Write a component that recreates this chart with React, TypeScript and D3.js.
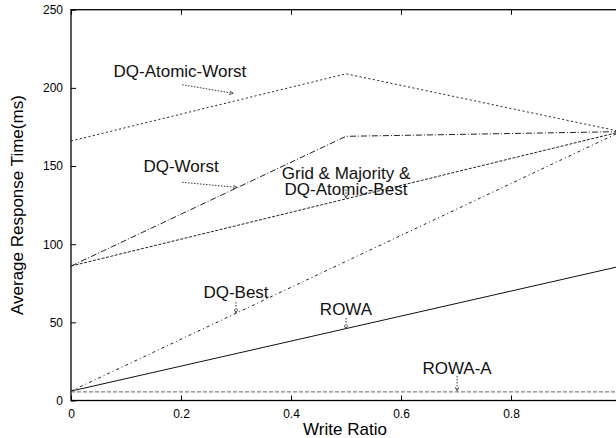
import React, { useRef, useEffect } from 'react';
import * as d3 from 'd3';

// write ratio sample points
const writeRatio = [0, 0.5, 1];

// response time (ms) for each scheme
const rowa = [6, 46, 86];
const rowaA = [5.5, 5.5, 5.5];
const dqBest = [6, 89, 172];
const gridMajority = [86, 129, 172];
const dqWorst = [86, 169, 172];
const dqAtomicWorst = [166, 209, 172];

const xTicks = [0, 0.2, 0.4, 0.6, 0.8, 1];
const yTicks = [0, 50, 100, 150, 200, 250];

interface Series {
  name: string;
  values: number[];
  dash: string;
  color: string;
}

const series: Series[] = [
  { name: 'ROWA', values: rowa, dash: 'none', color: '#111' },
  { name: 'ROWA-A', values: rowaA, dash: '4,2', color: '#666' },
  { name: 'DQ-Best', values: dqBest, dash: '3,3,1,3', color: '#222' },
  { name: 'Grid', values: gridMajority, dash: '3,1.5', color: '#222' },
  { name: 'DQ-Worst', values: dqWorst, dash: '6,2,1,2', color: '#222' },
  { name: 'DQ-Atomic-Worst', values: dqAtomicWorst, dash: '2,2.5', color: '#222' },
];

// labels in data units: text lines, text anchor point, arrow from -> to
interface Note {
  lines: string[];
  at: [number, number];
  from: [number, number];
  to: [number, number];
}

const notes: Note[] = [
  { lines: ['DQ-Atomic-Worst'], at: [0.198, 207], from: [0.202, 202], to: [0.295, 196.5] },
  { lines: ['DQ-Worst'], at: [0.2, 146], from: [0.202, 139.6], to: [0.302, 136.3] },
  { lines: ['Grid & Majority &', 'DQ-Atomic-Best'], at: [0.5, 141.7], from: [0.5, 135], to: [0.5, 129.4] },
  { lines: ['DQ-Best'], at: [0.3, 65.6], from: [0.3, 63], to: [0.3, 56] },
  { lines: ['ROWA'], at: [0.5, 54.7], from: [0.5, 52.8], to: [0.5, 45.7] },
  { lines: ['ROWA-A'], at: [0.702, 17], from: [0.702, 15.7], to: [0.702, 6.1] },
];

const W = 616;
const H = 438;
const left = 71;
const right = 621;
const top = 9.7;
const bottom = 400.5;
const font = '"Liberation Sans", Arial, Helvetica, sans-serif';

const App: React.FC = () => {
  const svgRef = useRef<SVGSVGElement | null>(null);

  useEffect(() => {
    if (!svgRef.current) return;
    const svg = d3.select(svgRef.current);
    svg.selectAll('*').remove();

    const x = d3.scaleLinear().domain([0, 1]).range([left, right]);
    const y = d3.scaleLinear().domain([0, 250]).range([bottom, top]);

    const defs = svg.append('defs');
    defs.append('marker')
      .attr('id', 'head')
      .attr('viewBox', '0 0 10 10')
      .attr('refX', 10)
      .attr('refY', 5)
      .attr('markerWidth', 4)
      .attr('markerHeight', 4)
      .attr('markerUnits', 'userSpaceOnUse')
      .attr('orient', 'auto')
      .append('path')
      .attr('d', 'M0,0 L10,5 L0,10')
      .attr('fill', 'none')
      .attr('stroke', '#333')
      .attr('stroke-width', 2);

    // the 1.0 label sits past the window edge, so it is left blank
    const xFmt = (d: d3.NumberValue) => (+d >= 1 ? '' : d3.format('')(d));

    // axes, gnuplot style: inward ticks mirrored on all sides
    const xAxis = svg.append('g')
      .attr('transform', `translate(0,${bottom})`)
      .call(d3.axisBottom(x).tickValues(xTicks).tickFormat(xFmt).tickSizeInner(-5).tickSizeOuter(0).tickPadding(9));
    const yAxis = svg.append('g')
      .attr('transform', `translate(${left},0)`)
      .call(d3.axisLeft(y).tickValues(yTicks).tickSizeInner(-5).tickSizeOuter(0).tickPadding(8));
    svg.append('g')
      .attr('transform', `translate(0,${top})`)
      .call(d3.axisTop(x).tickValues(xTicks).tickFormat(() => '').tickSizeInner(-5).tickSizeOuter(0));
    svg.append('g')
      .attr('transform', `translate(${right},0)`)
      .call(d3.axisRight(y).tickValues(yTicks).tickFormat(() => '').tickSizeInner(-5).tickSizeOuter(0));

    svg.selectAll('.domain').remove();
    svg.selectAll('.tick line').attr('stroke', '#000');
    [xAxis, yAxis].forEach(a => a.selectAll('text')
      .attr('font-family', font)
      .attr('font-size', 12)
      .attr('fill', '#000'));

    svg.append('rect')
      .attr('x', left)
      .attr('y', top)
      .attr('width', right - left)
      .attr('height', bottom - top)
      .attr('fill', 'none')
      .attr('stroke', '#000')
      .attr('stroke-width', 1.3);

    const line = d3.line<number>()
      .x((_, i) => x(writeRatio[i]))
      .y(d => y(d));

    svg.append('g')
      .selectAll('path')
      .data(series)
      .enter()
      .append('path')
      .attr('d', d => line(d.values) || '')
      .attr('fill', 'none')
      .attr('stroke', d => d.color)
      .attr('stroke-width', 1)
      .attr('stroke-dasharray', d => d.dash);

    const noteG = svg.append('g');
    notes.forEach(n => {
      n.lines.forEach((t, i) => {
        noteG.append('text')
          .attr('x', x(n.at[0]))
          .attr('y', y(n.at[1]) + i * 16)
          .attr('text-anchor', 'middle')
          .attr('font-family', font)
          .attr('font-size', 17)
          .attr('fill', '#111')
          .text(t);
      });
      noteG.append('line')
        .attr('x1', x(n.from[0]))
        .attr('y1', y(n.from[1]))
        .attr('x2', x(n.to[0]))
        .attr('y2', y(n.to[1]))
        .attr('stroke', '#333')
        .attr('stroke-width', 1)
        .attr('stroke-dasharray', '1.5,1.5')
        .attr('marker-end', 'url(#head)');
    });

    svg.append('text')
      .attr('x', (left + right) / 2 - 1)
      .attr('y', 435)
      .attr('text-anchor', 'middle')
      .attr('font-family', font)
      .attr('font-size', 17)
      .text('Write Ratio');

    svg.append('text')
      .attr('transform', `translate(23,${(top + bottom) / 2}) rotate(-90)`)
      .attr('text-anchor', 'middle')
      .attr('font-family', font)
      .attr('font-size', 17)
      .text('Average Response Time(ms)');
  }, []);

  return (
    <svg
      ref={svgRef}
      width={W}
      height={H}
      style={{ position: 'absolute', left: 0, top: 0, background: '#fff' }}
    />
  );
};

export default App;
